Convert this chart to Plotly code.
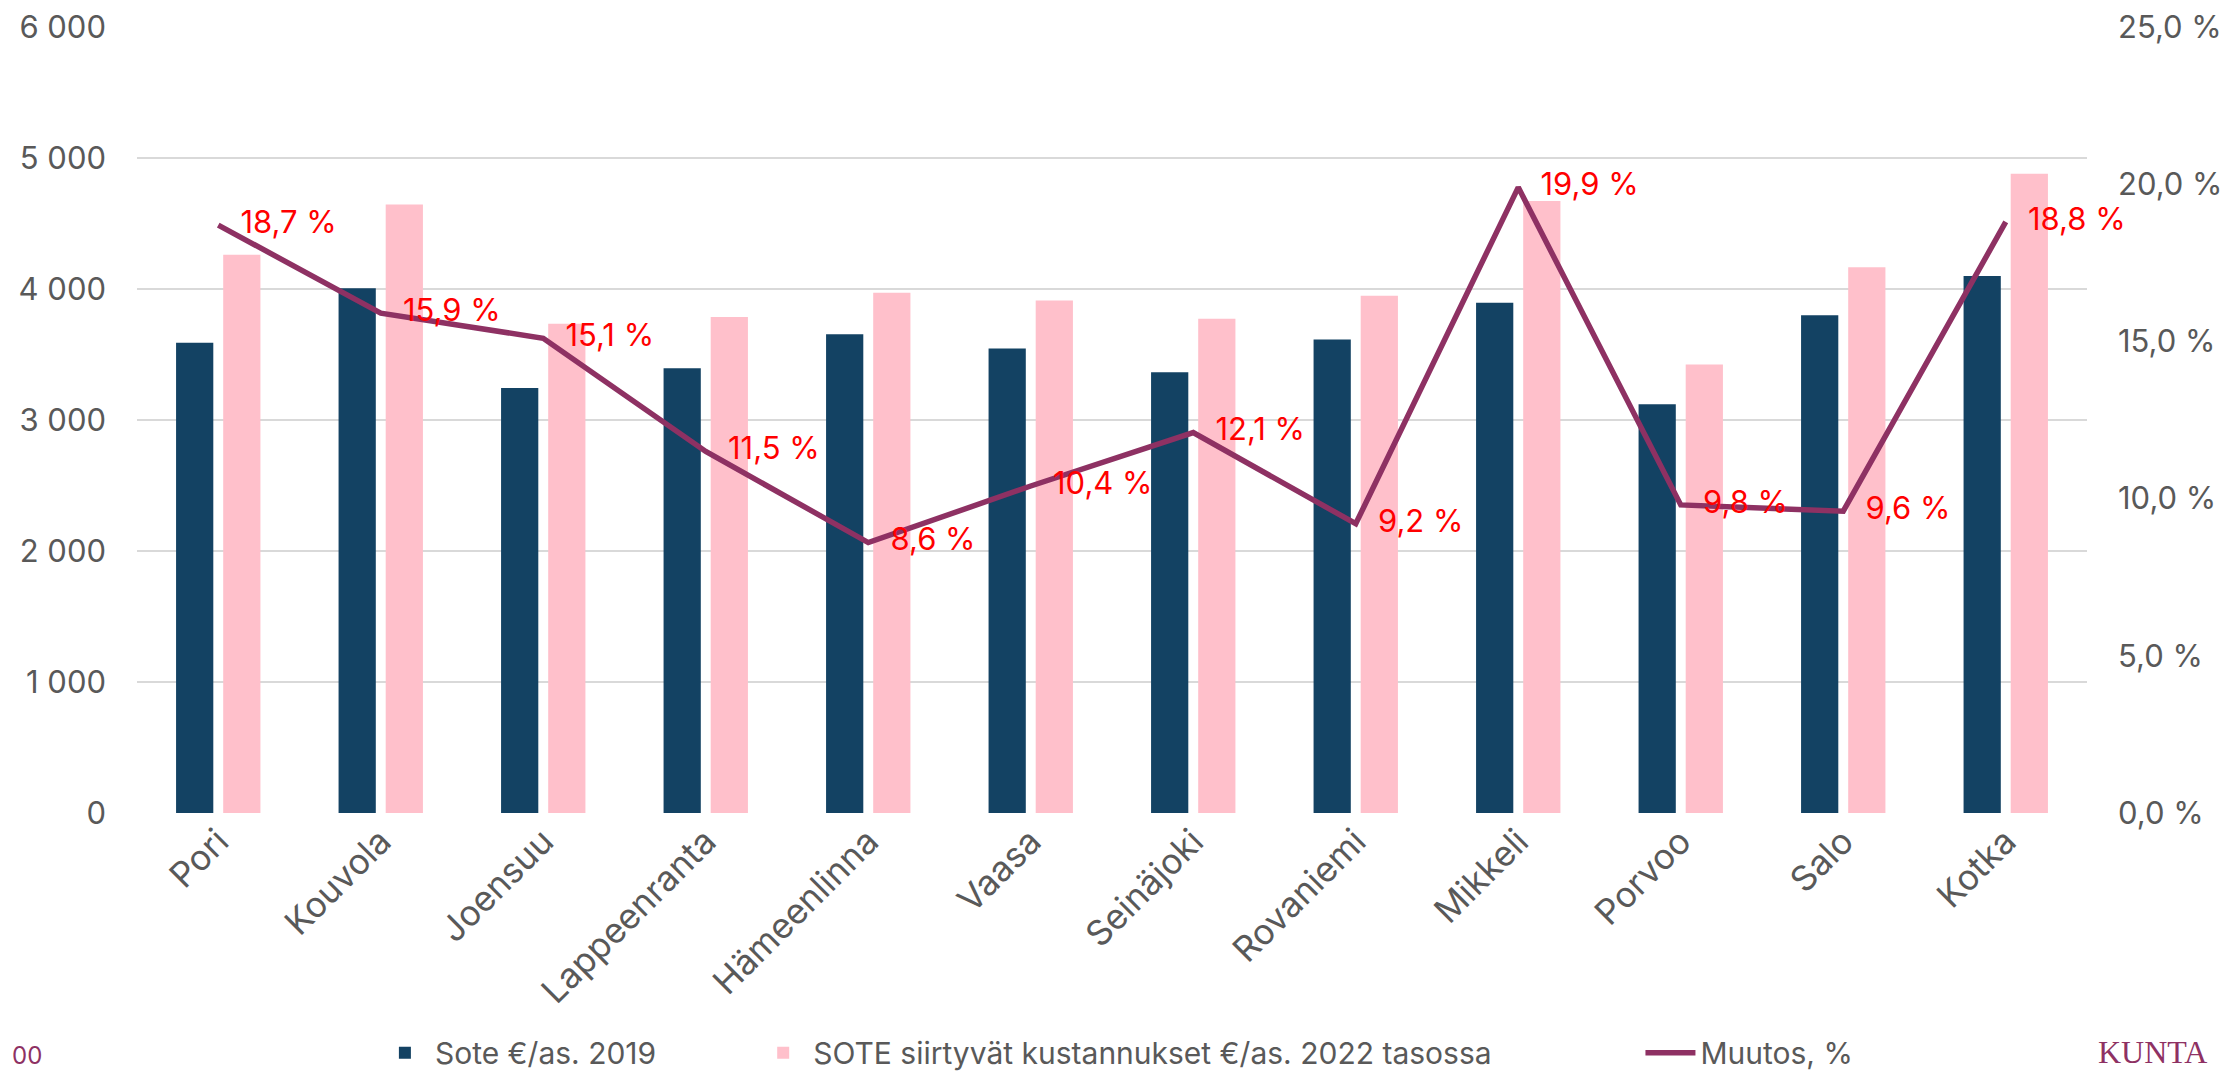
import plotly.graph_objects as go

cities = ["Pori", "Kouvola", "Joensuu", "Lappeenranta", "Hämeenlinna", "Vaasa",
          "Seinäjoki", "Rovaniemi", "Mikkeli", "Porvoo", "Salo", "Kotka"]
sote_2019 = [3590, 4005, 3245, 3395, 3655, 3545, 3365, 3615, 3895, 3120, 3800, 4100]
sote_2022 = [4262, 4645, 3735, 3787, 3972, 3912, 3772, 3948, 4672, 3424, 4166, 4880]
muutos = [18.7, 15.9, 15.1, 11.5, 8.6, 10.4, 12.1, 9.2, 19.9, 9.8, 9.6, 18.8]

left_ticks = [0, 1000, 2000, 3000, 4000, 5000, 6000]
right_ticks = [0, 5, 10, 15, 20, 25]

FONT = "Inter, Open Sans, Arial, sans-serif"
GRAY = "#595959"
PURPLE = "#8E3163"

fig = go.Figure()
fig.add_trace(go.Bar(
    x=cities, y=sote_2019, name="Sote €/as. 2019",
    marker=dict(color="#134263", line=dict(width=0)), legend="legend",
))
fig.add_trace(go.Bar(
    x=cities, y=sote_2022, name="SOTE siirtyvät kustannukset €/as. 2022 tasossa",
    marker=dict(color="#FFC0CB", line=dict(width=0)), legend="legend2",
))
fig.add_trace(go.Scatter(
    x=cities, y=muutos, name="Muutos, %", yaxis="y2",
    mode="lines",
    line=dict(color=PURPLE, width=5.5),
    legend="legend3",
))
# data labels (same series, text only)
fig.add_trace(go.Scatter(
    x=cities, y=muutos, yaxis="y2", showlegend=False, hoverinfo="skip",
    mode="markers+text", cliponaxis=False,
    marker=dict(size=34, opacity=0),
    text=[f"{v:.1f} %".replace(".", ",") for v in muutos],
    textposition="middle right",
    textfont=dict(color="#FF0000", size=31, family=FONT),
))

leg_common = dict(orientation="h", yanchor="middle", y=-0.305, xanchor="left",
                  font=dict(size=30, color=GRAY, family=FONT),
                  bgcolor="rgba(0,0,0,0)", itemwidth=50)

# page has an 8px body margin: figure is 8px smaller, margins shifted by 8px
fig.update_layout(
    width=2221, height=1066,
    margin=dict(l=129, r=142, t=19, b=261, autoexpand=False),
    paper_bgcolor="white", plot_bgcolor="white",
    showlegend=True,
    separators=", ",
    barmode="group", bargap=0.42, bargroupgap=0.21,
    font=dict(family=FONT, color=GRAY, size=31),
    xaxis=dict(range=[-0.5, 11.5], tickangle=-45, automargin=False,
               tickfont=dict(size=35, color=GRAY),
               showgrid=False, showline=False, ticks=""),
    yaxis=dict(range=[0, 6000], tickvals=left_ticks, automargin=False,
               ticktext=[f"{v:,}".replace(",", " ") for v in left_ticks],
               showgrid=True, gridcolor="#D9D9D9", gridwidth=2,
               zeroline=False, ticks="", ticklabelstandoff=30,
               ticklabeloverflow="allow",
               tickfont=dict(size=31, color=GRAY)),
    yaxis2=dict(range=[0, 25], overlaying="y", side="right", automargin=False,
                tickvals=right_ticks,
                ticktext=[f"{v:.1f} %".replace(".", ",") for v in right_ticks],
                showgrid=False, zeroline=False, ticks="", ticklabelstandoff=30,
                ticklabeloverflow="allow",
                tickfont=dict(size=31, color=GRAY)),
    legend=dict(x=0.122, **leg_common),
    legend2=dict(x=0.316, **leg_common),
    legend3=dict(x=0.771, **leg_common),
    annotations=[
        dict(text="KUNTA", xref="paper", yref="paper", x=(2096 - 137) / 1950, y=(813 - 1072) / 786,
             xanchor="left", yanchor="bottom", showarrow=False,
             font=dict(family="Liberation Serif, DejaVu Serif, serif", size=32, color=PURPLE)),
        dict(text="00", xref="paper", yref="paper", x=(10 - 137) / 1950, y=(813 - 1072) / 786,
             xanchor="left", yanchor="bottom", showarrow=False,
             font=dict(family=FONT, size=24, color=PURPLE)),
    ],
)

fig.write_html("out.html")
